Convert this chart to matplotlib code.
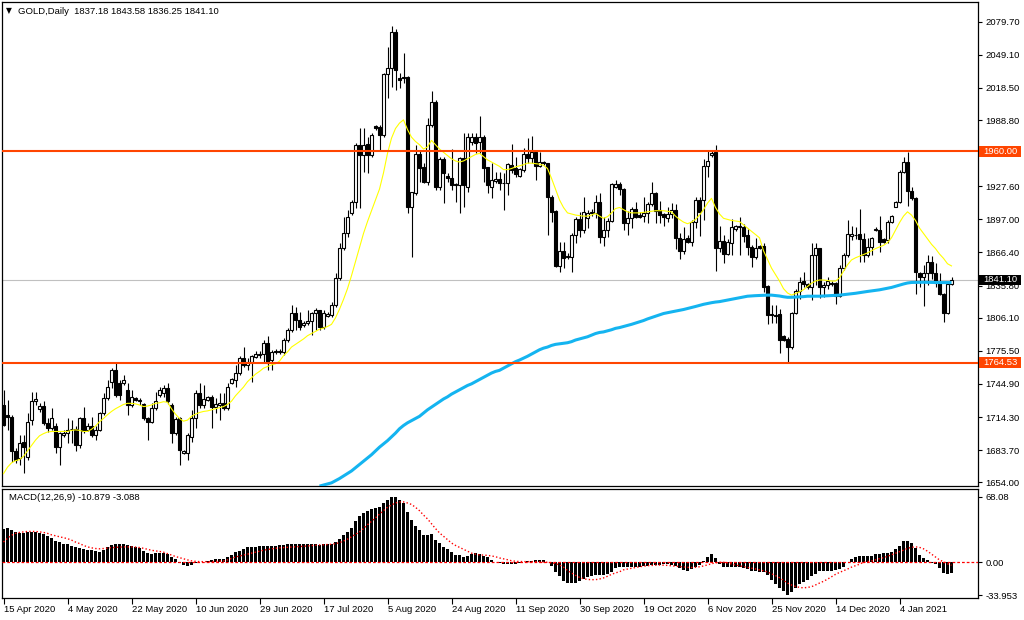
import numpy as np
import matplotlib
matplotlib.use('Agg')
import matplotlib.pyplot as plt
from matplotlib.patches import Rectangle

# daily candles, one per bar (MT4 chart with Sunday bars)
opens = [
    1725.6, 1716.3, 1714.8, 1682.5, 1676.3, 1691.7, 1677.8, 1711.7, 1729.0, 1721.6,
    1724.7, 1708.6, 1704.0, 1705.6, 1687.1, 1697.8, 1699.4, 1703.0, 1703.1, 1688.6,
    1713.3, 1702.5, 1706.2, 1697.8, 1702.5, 1717.9, 1731.7, 1747.1, 1757.9, 1745.6,
    1745.6, 1739.4, 1725.6, 1731.7, 1729.0, 1726.2, 1713.3, 1710.2, 1722.5, 1734.8,
    1736.4, 1741.0, 1725.6, 1699.9, 1713.3, 1681.0, 1680.9, 1696.3, 1713.3, 1736.4,
    1725.6, 1730.2, 1732.6, 1723.4, 1725.6, 1727.7, 1722.5, 1746.2, 1748.7, 1754.8,
    1768.7, 1762.5, 1765.6, 1770.2, 1771.5, 1772.7, 1783.2, 1767.1, 1775.8, 1775.5,
    1774.8, 1785.6, 1794.9, 1810.3, 1804.1, 1799.5, 1801.6, 1803.0, 1810.3, 1813.4,
    1797.9, 1808.0, 1808.7, 1817.9, 1842.6, 1870.3, 1884.8, 1902.7, 1913.4, 1965.8,
    1956.6, 1966.7, 1956.6, 1983.0, 1982.7, 1975.0, 2031.4, 2036.6, 2070.5, 2027.4,
    2029.0, 2029.0, 1908.8, 1921.1, 1957.5, 1945.8, 1931.9, 1984.3, 2005.8, 1927.3,
    1952.6, 1937.4, 1935.0, 1929.8, 1928.8, 1953.5, 1927.3, 1968.9, 1973.5, 1968.9,
    1973.5, 1945.8, 1927.3, 1932.8, 1934.3, 1931.0, 1930.4, 1947.3, 1944.2, 1937.4,
    1942.7, 1957.5, 1953.5, 1959.6, 1946.7, 1949.8, 1948.9, 1918.0, 1905.1, 1854.3,
    1868.2, 1863.2, 1862.0, 1882.7, 1897.4, 1887.3, 1898.0, 1902.7, 1902.7, 1913.4,
    1880.5, 1887.3, 1895.9, 1926.7, 1929.8, 1925.2, 1893.4, 1898.0, 1906.3, 1901.1,
    1900.2, 1902.7, 1911.3, 1921.8, 1905.8, 1902.0, 1898.0, 1902.0, 1905.8, 1879.6,
    1868.2, 1879.6, 1876.5, 1894.3, 1915.0, 1915.0, 1946.4, 1956.6, 1959.6, 1870.3,
    1877.4, 1865.1, 1875.6, 1887.9, 1890.3, 1889.7, 1882.7, 1871.9, 1862.6, 1872.5,
    1872.5, 1835.5, 1809.6, 1809.0, 1809.6, 1789.3, 1786.3, 1778.9, 1810.9, 1831.2,
    1840.5, 1837.4, 1834.9, 1864.2, 1870.3, 1834.3, 1836.4, 1838.6, 1838.6, 1826.3,
    1851.8, 1864.2, 1881.7, 1882.5, 1883.6, 1878.6, 1864.2, 1871.9, 1887.3, 1887.3,
    1878.6, 1877.9, 1894.9, 1908.8, 1913.4, 1941.2, 1950.4, 1923.6, 1916.5, 1847.2,
    1844.2, 1847.2, 1858.0, 1847.8, 1837.9, 1828.1, 1810.2, 1837.18,
]
highs = [
    1739.5, 1730.2, 1716.3, 1685.5, 1697.8, 1697.8, 1717.9, 1737.9, 1737.9, 1727.0,
    1728.7, 1713.3, 1722.5, 1708.6, 1700.9, 1702.0, 1713.3, 1711.7, 1705.6, 1714.8,
    1724.0, 1708.6, 1714.8, 1705.6, 1719.4, 1736.4, 1748.7, 1760.0, 1765.6, 1748.7,
    1753.3, 1745.6, 1739.4, 1733.3, 1732.0, 1727.7, 1714.8, 1727.1, 1737.9, 1742.5,
    1744.0, 1745.6, 1727.1, 1714.8, 1714.8, 1684.0, 1699.4, 1720.9, 1739.4, 1745.6,
    1744.0, 1734.0, 1734.8, 1731.7, 1736.4, 1736.4, 1745.6, 1750.2, 1762.5, 1770.9,
    1779.5, 1768.7, 1771.8, 1775.8, 1775.5, 1785.6, 1789.3, 1776.4, 1777.0, 1777.0,
    1787.2, 1796.4, 1817.9, 1816.4, 1811.8, 1803.0, 1813.4, 1811.8, 1814.9, 1813.4,
    1813.4, 1811.0, 1821.0, 1847.2, 1874.9, 1899.6, 1905.8, 1914.9, 1967.4, 1981.2,
    1981.2, 1973.5, 1976.6, 1984.3, 1984.3, 2032.0, 2056.7, 2075.8, 2072.7, 2032.0,
    2050.5, 2029.6, 1922.7, 1965.8, 1961.2, 1948.9, 1990.4, 2016.0, 2007.4, 1955.0,
    1955.0, 1939.6, 1961.8, 1930.4, 1955.0, 1976.6, 1976.6, 1976.6, 1976.6, 1992.6,
    1975.0, 1945.8, 1948.9, 1941.2, 1941.2, 1940.2, 1949.5, 1966.7, 1955.0, 1944.2,
    1962.7, 1972.0, 1974.1, 1960.6, 1959.6, 1951.0, 1949.5, 1919.6, 1905.8, 1876.5,
    1876.5, 1865.7, 1884.2, 1899.6, 1904.2, 1917.4, 1905.8, 1906.5, 1919.6, 1921.8,
    1899.6, 1898.0, 1931.0, 1933.5, 1931.9, 1925.8, 1905.1, 1908.8, 1913.4, 1904.2,
    1918.0, 1913.4, 1931.9, 1922.7, 1914.0, 1903.3, 1908.8, 1911.9, 1911.3, 1884.2,
    1890.3, 1882.7, 1896.5, 1917.4, 1918.0, 1952.6, 1961.2, 1960.6, 1965.8, 1891.0,
    1882.7, 1878.6, 1897.1, 1891.9, 1899.6, 1892.8, 1887.9, 1873.4, 1879.6, 1873.4,
    1875.6, 1836.4, 1818.0, 1818.0, 1814.0, 1790.3, 1788.1, 1811.8, 1832.4, 1843.5,
    1848.7, 1838.0, 1874.9, 1874.9, 1870.3, 1839.5, 1844.2, 1840.0, 1839.5, 1854.9,
    1865.7, 1896.5, 1891.0, 1890.0, 1906.3, 1884.2, 1879.6, 1880.5, 1889.5, 1900.2,
    1880.0, 1896.5, 1901.1, 1914.3, 1942.7, 1954.4, 1959.6, 1927.3, 1917.4, 1848.8,
    1854.9, 1864.2, 1863.2, 1856.4, 1847.8, 1828.7, 1838.0, 1843.58,
]
lows = [
    1705.6, 1702.5, 1673.2, 1671.7, 1670.0, 1662.4, 1674.8, 1707.1, 1725.0, 1719.4,
    1707.1, 1700.9, 1702.5, 1680.9, 1670.0, 1696.0, 1690.0, 1690.0, 1682.5, 1685.5,
    1699.4, 1701.0, 1696.3, 1693.2, 1701.0, 1716.3, 1730.2, 1741.0, 1733.3, 1730.2,
    1744.0, 1716.3, 1724.0, 1728.7, 1725.0, 1711.7, 1693.2, 1708.6, 1721.0, 1733.3,
    1733.0, 1726.0, 1690.0, 1698.0, 1670.0, 1680.0, 1674.8, 1691.7, 1704.0, 1722.5,
    1722.5, 1729.0, 1704.0, 1718.0, 1711.7, 1721.0, 1721.0, 1745.0, 1742.5, 1753.3,
    1761.0, 1757.9, 1747.1, 1768.7, 1768.5, 1765.6, 1757.9, 1757.9, 1773.0, 1773.0,
    1771.8, 1784.1, 1793.3, 1794.9, 1794.9, 1798.0, 1799.5, 1790.3, 1794.9, 1794.9,
    1796.0, 1807.0, 1807.2, 1816.4, 1841.1, 1868.7, 1881.1, 1901.1, 1907.3, 1907.3,
    1941.2, 1939.6, 1955.0, 1980.0, 1961.2, 1973.5, 2008.9, 2019.7, 2016.6, 2018.2,
    2022.8, 1902.7, 1862.6, 1919.6, 1931.9, 1930.4, 1928.8, 1982.7, 1924.2, 1924.2,
    1911.9, 1932.0, 1924.2, 1913.4, 1902.7, 1908.8, 1922.7, 1966.0, 1958.1, 1958.1,
    1931.9, 1921.1, 1916.5, 1930.4, 1924.2, 1905.8, 1919.6, 1939.6, 1936.5, 1936.5,
    1941.2, 1948.9, 1948.9, 1933.5, 1945.2, 1947.3, 1882.7, 1895.0, 1853.4, 1848.8,
    1851.8, 1860.2, 1848.8, 1874.9, 1881.1, 1884.8, 1888.8, 1900.0, 1898.0, 1874.9,
    1872.5, 1881.1, 1894.9, 1925.8, 1919.6, 1887.3, 1882.7, 1888.8, 1898.0, 1898.0,
    1895.0, 1894.0, 1909.4, 1894.0, 1894.0, 1891.0, 1895.0, 1898.0, 1869.4, 1860.2,
    1865.1, 1874.9, 1872.5, 1888.8, 1881.7, 1896.5, 1935.9, 1955.0, 1849.7, 1867.3,
    1856.5, 1864.2, 1864.2, 1886.7, 1864.2, 1876.5, 1864.2, 1852.8, 1860.2, 1869.4,
    1830.3, 1800.4, 1801.0, 1801.0, 1773.9, 1785.0, 1764.1, 1777.0, 1809.6, 1823.2,
    1834.3, 1833.0, 1822.6, 1836.4, 1824.1, 1825.7, 1833.0, 1835.5, 1818.9, 1825.0,
    1850.3, 1862.6, 1878.0, 1879.0, 1858.0, 1858.0, 1862.0, 1864.2, 1886.0, 1867.3,
    1875.0, 1875.6, 1894.0, 1908.2, 1911.9, 1940.2, 1909.4, 1915.0, 1828.1, 1834.9,
    1817.0, 1836.4, 1841.7, 1834.9, 1827.2, 1802.5, 1809.6, 1836.25,
]
closes = [
    1707.1, 1714.8, 1682.5, 1674.8, 1690.0, 1687.1, 1710.2, 1728.7, 1731.0, 1724.7,
    1708.6, 1704.0, 1713.3, 1687.1, 1699.4, 1699.9, 1702.5, 1703.3, 1688.6, 1713.3,
    1701.0, 1706.2, 1697.8, 1702.5, 1717.9, 1731.7, 1742.5, 1757.9, 1734.8, 1734.8,
    1748.7, 1725.6, 1733.3, 1730.2, 1730.5, 1713.3, 1710.2, 1722.5, 1728.7, 1739.4,
    1741.0, 1728.7, 1699.4, 1712.3, 1684.0, 1683.0, 1697.8, 1713.3, 1736.4, 1725.6,
    1730.8, 1732.6, 1723.4, 1726.5, 1727.1, 1722.5, 1742.5, 1749.3, 1754.8, 1768.7,
    1762.5, 1765.6, 1770.9, 1772.4, 1773.0, 1783.2, 1764.0, 1774.8, 1774.0, 1774.2,
    1785.6, 1794.9, 1810.3, 1804.1, 1797.9, 1801.6, 1803.5, 1810.3, 1813.4, 1797.9,
    1810.3, 1809.8, 1817.9, 1842.6, 1870.3, 1884.8, 1899.6, 1913.4, 1965.8, 1956.6,
    1965.8, 1956.6, 1975.0, 1981.0, 1975.0, 2031.4, 2036.6, 2070.5, 2035.1, 2025.9,
    2027.4, 1908.8, 1922.7, 1957.5, 1944.2, 1931.9, 1984.3, 2005.8, 1927.3, 1952.6,
    1939.6, 1935.0, 1928.8, 1928.5, 1953.5, 1928.8, 1973.5, 1973.5, 1967.4, 1973.5,
    1944.2, 1928.8, 1933.5, 1934.3, 1930.4, 1930.4, 1948.2, 1942.7, 1939.0, 1943.3,
    1957.5, 1953.5, 1959.6, 1946.7, 1949.8, 1948.8, 1917.4, 1904.2, 1854.3, 1868.2,
    1861.1, 1862.0, 1882.7, 1897.4, 1887.3, 1904.2, 1902.7, 1904.2, 1913.4, 1880.5,
    1887.3, 1895.9, 1929.8, 1929.8, 1924.8, 1893.4, 1898.0, 1906.3, 1899.0, 1899.6,
    1902.7, 1911.3, 1921.8, 1905.1, 1901.1, 1899.0, 1902.0, 1905.8, 1879.6, 1868.2,
    1878.6, 1876.5, 1895.0, 1915.0, 1904.2, 1946.4, 1951.0, 1958.7, 1870.3, 1877.4,
    1865.1, 1876.5, 1889.7, 1891.0, 1891.0, 1881.7, 1871.3, 1862.6, 1870.3, 1870.3,
    1834.9, 1808.7, 1808.4, 1808.0, 1785.6, 1785.6, 1778.9, 1810.9, 1831.2, 1839.5,
    1837.4, 1834.3, 1864.2, 1870.3, 1834.3, 1836.4, 1840.5, 1837.0, 1826.3, 1851.8,
    1864.2, 1883.6, 1883.6, 1883.0, 1878.6, 1864.2, 1871.9, 1879.6, 1888.0, 1876.5,
    1876.5, 1894.9, 1900.2, 1913.4, 1941.2, 1950.4, 1923.6, 1916.5, 1848.8, 1844.2,
    1847.2, 1858.0, 1847.8, 1837.9, 1828.1, 1810.2, 1837.4, 1841.10,
]

# yellow fast MA, one value per bar
ma_fast = [
    1662, 1668, 1672, 1674, 1675, 1678, 1683, 1688, 1693, 1697,
    1699, 1700.5, 1701, 1701, 1701, 1701, 1701, 1702, 1702.5, 1702,
    1701, 1701, 1703, 1706, 1710, 1713, 1716.5, 1719.5, 1722, 1724,
    1726, 1727, 1727, 1726.5, 1725.5, 1724, 1724.5, 1725.5, 1727, 1727.5,
    1728.5, 1728, 1722, 1717, 1713, 1710.5, 1711.5, 1715, 1717, 1718.5,
    1719.5, 1720, 1721, 1722, 1723, 1724, 1726, 1729, 1734, 1738,
    1742, 1747, 1750.5, 1754, 1756.5, 1759.5, 1761, 1762.5, 1763.5, 1766,
    1771, 1774.5, 1779, 1781.5, 1784, 1786.5, 1789.5, 1791.5, 1793.5, 1795.5,
    1796.5, 1798, 1800, 1806, 1814, 1823, 1833, 1845, 1858, 1871,
    1884, 1895, 1905, 1915, 1925, 1940, 1958, 1972, 1981, 1986,
    1989, 1980, 1973, 1969, 1966, 1962, 1964, 1970, 1966, 1962,
    1959, 1956, 1953, 1951, 1950, 1951, 1953, 1955, 1957, 1958,
    1955, 1952, 1950, 1948, 1946, 1943, 1943, 1944, 1945.5, 1946.5,
    1947.5, 1949, 1949, 1948.5, 1948, 1947, 1944, 1935, 1925, 1915,
    1908, 1903, 1902, 1901, 1900.5, 1900, 1900, 1901, 1902.5, 1900,
    1898, 1899.5, 1903, 1907, 1908, 1906, 1904, 1903, 1903, 1903,
    1903.5, 1904, 1904.5, 1905, 1905, 1905, 1904.5, 1904, 1900, 1897,
    1894.5, 1893, 1894.5, 1897, 1901, 1906, 1912, 1916.5, 1908, 1902,
    1898, 1897, 1896, 1895.5, 1895, 1892, 1889, 1886, 1883, 1880,
    1868, 1860, 1852, 1846, 1840, 1833, 1829, 1827, 1828.5, 1830,
    1832, 1835, 1838, 1840, 1841, 1841, 1840.5, 1840, 1840, 1843,
    1849, 1855, 1859.5, 1861.5, 1863, 1864.5, 1866, 1868, 1870, 1871.5,
    1873, 1875.5, 1880, 1887, 1894, 1900, 1904, 1901, 1896, 1889,
    1884, 1879, 1874, 1870, 1865, 1861, 1856, 1854,
]

# blue slow MA, visible only on the last bars
ma_slow = [
    1650.5, 1651.5, 1652.5, 1653.5, 1655.5, 1657.5, 1659.8, 1662, 1664.5, 1667.5,
    1670.5, 1673.5, 1676.5, 1679.5, 1683, 1686.5, 1689.5, 1692.5, 1696, 1699.5,
    1703.5, 1706.5, 1709, 1711, 1713, 1715, 1718, 1721, 1723.5, 1726,
    1728.5, 1731, 1733, 1735.5, 1737.5, 1739.5, 1741.5, 1743.5, 1745, 1747,
    1749, 1751, 1753, 1755, 1756.5, 1757.5, 1759.5, 1761.5, 1763.5, 1765.5,
    1767, 1768.7, 1770.5, 1772.5, 1774.5, 1776.5, 1778, 1779, 1780.5, 1781.5,
    1782, 1782.5, 1783, 1784, 1785.5, 1786.5, 1787.5, 1788.5, 1790, 1791.5,
    1792.5, 1793, 1794, 1795, 1796.3, 1797, 1798, 1799, 1800, 1801.2,
    1802.3, 1803.5, 1805, 1806.3, 1807.5, 1808.7, 1810, 1810.8, 1811.5, 1812.2,
    1812.8, 1813.7, 1814.6, 1815.5, 1816.5, 1817.5, 1818.5, 1819.3, 1820, 1820.6,
    1821, 1821.7, 1822.3, 1823, 1823.8, 1824.5, 1825.3, 1826, 1826.3, 1826.5,
    1826.7, 1826.9, 1827, 1827, 1826.6, 1826.2, 1825.5, 1825, 1825, 1825.2,
    1825.4, 1825.6, 1826, 1826, 1826, 1826, 1826.2, 1826.4, 1826.6, 1826.8,
    1827, 1827.4, 1827.8, 1828.1, 1828.7, 1829.3, 1829.8, 1830.4, 1830.9, 1831.4,
    1831.9, 1832.6, 1833.3, 1834.1, 1835.2, 1836.3, 1837.3, 1838.2, 1838.7, 1838.8,
    1838.9, 1838.9, 1838.8, 1838.7, 1838.6, 1838.6, 1838.6, 1838.6, 1838.6,
]

# MACD(12,26,9) histogram and signal
macd = [
    35, 36, 33, 31, 30, 30, 31, 31.5, 31.5, 30.5,
    29.5, 27, 25, 22.5, 21, 19.5, 18.5, 17, 15.5, 14.5,
    14, 13, 12.5, 11.5, 11, 13, 15.5, 17.5, 18.5, 18.5,
    18.5, 17.5, 16.5, 16, 15, 12, 9.5, 8.5, 9.5, 10,
    9.5, 8.5, 5.5, 3, -1, -3, -3.5, -2.5, -1, 0,
    0.5, 1.5, 2.5, 3, 3.5, 3.5, 5, 8, 10.5, 12,
    14, 15.5, 15.5, 16, 16.5, 17, 16.5, 17, 17, 17.5,
    18, 18.5, 19, 18.5, 18.5, 18.5, 18.5, 18.5, 18.5, 18,
    19, 19.5, 18.5, 21, 24, 28, 31.5, 35.5, 43, 48,
    51, 53.5, 55, 56.5, 57, 61, 65, 68.08, 67.5, 65,
    61, 52, 44, 38, 33, 28, 28, 29, 23, 20,
    16, 14, 11, 7.5, 7.5, 6, 7, 8.5, 9.5, 9,
    7, 5, 2, 0.5, -0.5, -2, -1.5, -1.5, -1.5, -1,
    0, 1, 1.5, 2, 2, 2, 0, -3.5, -10, -14.5,
    -19, -21.5, -21.5, -21, -19.5, -17, -15.5, -14.5, -13.5, -13,
    -13, -12.5, -10, -6, -4.5, -4.5, -4.5, -4.5, -4.5, -4.5,
    -3.5, -3.5, -2.5, -2.5, -2.5, -2, -2, -2.5, -3.5, -6,
    -8, -9, -7, -5, -3, 1.5, 5, 8.5, 4, -1.5,
    -4.5, -4.5, -4.5, -4.5, -4.5, -5.5, -7, -8.5, -9.5, -10,
    -10.5, -13, -18, -23, -27, -30, -33.953, -30.5, -27, -23,
    -20.5, -18, -14.5, -12, -9.5, -9.5, -9.5, -9, -8, -6.5,
    -5, 0, 3.5, 5.5, 6.5, 6.5, 6.5, 7, 9, 9,
    9.5, 10, 11, 13.5, 17, 22, 22, 20.5, 14.5, 8,
    4, 2.5, -1, -2, -6, -11, -12, -10.879,
]
signal = [
    21, 25, 28, 30, 31, 31.5, 32, 32, 32, 31.5,
    31, 30, 28.5, 27.5, 26.5, 25.5, 24.5, 23, 21, 19.5,
    17.5, 16, 15, 14.3, 14, 14.3, 14.8, 15.2, 15.5, 15.8,
    16, 16, 16, 15.8, 15.3, 14.5, 13.5, 12.5, 11.8, 11.3,
    10.5, 9, 7.5, 6, 4.8, 3.5, 2.5, 1.5, 1, 0.7,
    0.7, 0.7, 0.7, 0.9, 1.1, 1.4, 2.5, 4, 5.5, 6.5,
    7.5, 8.5, 9.5, 10.5, 11.5, 12.5, 13.3, 14, 14.5, 15,
    15.3, 15.6, 15.9, 16.1, 16.3, 16.6, 17, 17.3, 17.7, 18,
    18.2, 18.4, 18.7, 19.3, 20.4, 22, 24, 26.5, 29, 31.5,
    35, 39, 42.5, 46, 50, 53.5, 57, 59.5, 61.5, 62.5,
    62.6, 61.5, 60, 57, 53.5, 49, 45, 40, 35, 30.5,
    27, 23.5, 20, 17.5, 15.5, 13.5, 11.5, 9.5, 8.5, 7.7,
    7.5, 7.2, 6.6, 5.8, 4.5, 3.6, 2.7, 1.6, 1.1, 0.8,
    0.7, 0.7, 0.7, 0.7, 0.5, 0.3, 0, -0.5, -1.5, -2.7,
    -5, -8.5, -11, -13.5, -15.6, -17, -17.8, -18, -18, -17.3,
    -16.2, -14.5, -12.5, -11, -9.8, -7.8, -7, -6.2, -5.4, -4.6,
    -4, -3.5, -3.2, -3, -2.8, -3, -3.2, -3.6, -4, -4.4,
    -4.8, -5.2, -5.4, -5.2, -4.6, -3.8, -2.6, -1.5, -0.5, 0,
    0, -0.5, -1.8, -2.8, -3.6, -4.4, -5.2, -6, -6.9, -7.8,
    -8.8, -10, -11.8, -13.8, -16, -18.7, -21.5, -23.5, -25, -26,
    -26.5, -26, -25.3, -23.5, -21.5, -19.7, -17.5, -15, -12.5, -10.5,
    -8.8, -7, -5, -3.5, -2, 0, 0.7, 1.4, 2.5, 3.8,
    4.8, 6.2, 7.8, 9.5, 11, 12.6, 14.5, 15.5, 16, 15.5,
    14, 11.5, 8.5, 5.5, 2.5, 0.5, -1.5, -3.088,
]

price_ticks = [2079.70, 2049.10, 2018.50, 1988.80, 1927.60, 1897.00,
               1866.40, 1835.80, 1806.10, 1775.50, 1744.90, 1714.30, 1683.70, 1654.00]
levels = [1960.00, 1764.53]
last_price = 1841.10
date_labels = ['15 Apr 2020', '4 May 2020', '22 May 2020', '10 Jun 2020', '29 Jun 2020',
               '17 Jul 2020', '5 Aug 2020', '24 Aug 2020', '11 Sep 2020', '30 Sep 2020',
               '19 Oct 2020', '6 Nov 2020', '25 Nov 2020', '14 Dec 2020', '4 Jan 2021']
macd_ticks = [68.08, 0.00, -33.953]
macd_tick_labels = ['68.08', '0.00', '-33.953']

plt.rcParams['font.family'] = ['Liberation Sans', 'DejaVu Sans']
FS = 6.8

o = np.array(opens)
h = np.array(highs)
l = np.array(lows)
c = np.array(closes)
n = len(c)
x = np.arange(n)

fig = plt.figure(figsize=(10.24, 6.2), dpi=100)
ax = fig.add_axes([2 / 1024, 134 / 620, 976 / 1024, 484 / 620])
ax2 = fig.add_axes([2 / 1024, 22 / 620, 976 / 1024, 109 / 620])

# price panel
ax.set_xlim(-0.375, 243.625)
ax.set_ylim(1650.6, 2097.9)
ax.axhline(last_price, color='#C0C0C0', lw=0.8, zorder=1)
ax.vlines(x, l, h, color='black', lw=0.8, zorder=3)
up = c >= o
body_bottom = np.minimum(o, c)
body_height = np.maximum(np.abs(c - o), 0.5)
ax.bar(x, body_height, bottom=body_bottom, width=0.58,
       color=['white' if u else 'black' for u in up],
       edgecolor='black', linewidth=0.8, zorder=4)
ax.plot(x[n - len(ma_fast):], ma_fast, color='#FFFF00', lw=0.8, zorder=5)
ax.plot(x[n - len(ma_slow):], ma_slow, color='#14B4F0', lw=2.2, zorder=5,
        solid_capstyle='butt')
for lv in levels:
    ax.axhline(lv, color='#FF4500', lw=1.5, zorder=6)

ax.set_xticks([])
ax.yaxis.tick_right()
ax.set_yticks(price_ticks)
ax.set_yticklabels([f'{v:.2f}' for v in price_ticks])
ax.tick_params(axis='y', length=3, width=0.8, pad=2.5, labelsize=FS, colors='black')
for s in ax.spines.values():
    s.set_linewidth(0.9)

# price tags on the right scale
tag_tf = ax.get_yaxis_transform()
for val, bg in [(levels[0], '#FF4500'), (levels[1], '#FF4500'), (last_price, 'black')]:
    ax.add_patch(Rectangle((1 + 1 / 976, val - 4.9), 42 / 976, 9.8, transform=tag_tf,
                           fc=bg, ec='none', clip_on=False, zorder=9))
    ax.text(1 + 5.5 / 976, val, f'{val:.2f}', transform=tag_tf, ha='left', va='center',
            color='white', fontsize=FS, clip_on=False, zorder=10)

fig.text(6 / 1024, 1 - 11 / 620, '\u25bc', fontsize=5.5, va='center', ha='left',
         family=['DejaVu Sans'])
fig.text(18 / 1024, 1 - 11 / 620, 'GOLD,Daily  1837.18 1843.58 1836.25 1841.10',
         fontsize=FS, va='center', ha='left')

# MACD panel
ax2.set_xlim(-0.375, 243.625)
ax2.set_ylim(-37.0, 76.0)
ax2.bar(x, macd, width=0.72, color='black', zorder=2)
ax2.axhline(0, color='red', lw=0.9, ls=(0, (2.2, 1.6)), zorder=3)
ax2.plot(x, signal, color='red', lw=1.0, ls=(0, (1.0, 1.6)), zorder=4)
ax2.yaxis.tick_right()
ax2.set_yticks(macd_ticks)
ax2.set_yticklabels(macd_tick_labels)
ax2.tick_params(axis='y', length=3, width=0.8, pad=2.5, labelsize=FS)
ax2.set_xticks(x[::16][:len(date_labels)])
ax2.set_xticklabels(date_labels, ha='left')
ax2.tick_params(axis='x', length=4, width=0.8, pad=1, labelsize=FS)
for s in ax2.spines.values():
    s.set_linewidth(0.9)
ax2.text(7 / 976, 0.92, 'MACD(12,26,9) -10.879 -3.088', transform=ax2.transAxes,
         fontsize=FS, va='center', ha='left')

fig.savefig('out.png', dpi=100, facecolor='white')
